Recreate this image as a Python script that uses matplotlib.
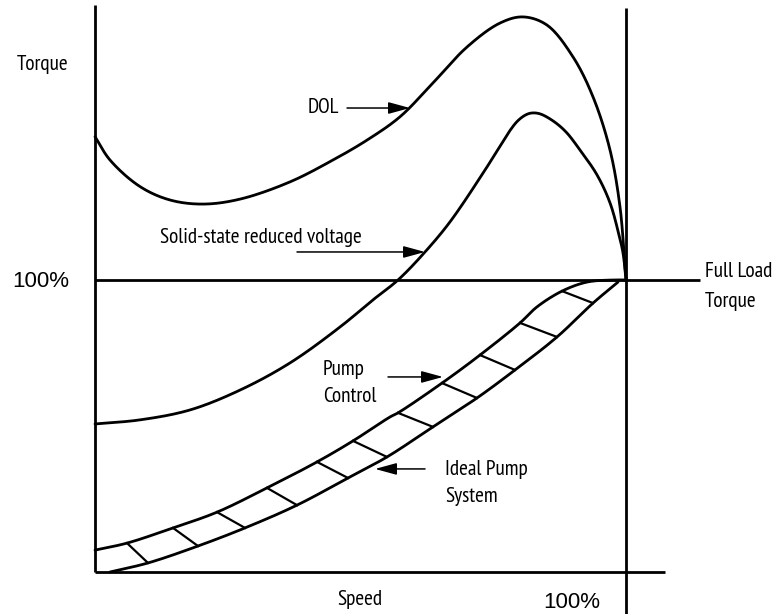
import numpy as np
import matplotlib
matplotlib.use("Agg")
import matplotlib.pyplot as plt
from matplotlib import font_manager
from matplotlib.font_manager import FontProperties
from matplotlib.textpath import TextPath

# ---- data (speed %, torque %) ----
dol_x = [0, 2.82, 8.47, 14.12, 20.34, 27.31, 36.72, 44.82, 51.22, 57.44, 63.65,
         70.06, 76.27, 80.60, 85.12, 90.02, 93.79, 96.99, 98.87, 99.81, 100]
dol_y = [149.1, 141.1, 132.0, 127.4, 126.0, 127.7, 133.6, 141.1, 147.9, 155.9, 167.5,
         179.8, 188.0, 190.1, 187.3, 176.4, 162.7, 144.5, 125.0, 104.5, 100]

ss_x = [0, 8.47, 17.89, 27.31, 36.72, 46.14, 52.35, 57.06, 62.15, 66.85, 73.07,
        76.27, 78.15, 79.66, 81.17, 82.30, 83.80, 86.25, 88.70, 91.34, 94.54,
        96.99, 98.68, 99.44, 100]
ss_y = [50.7, 52.1, 55.5, 62.3, 71.6, 83.9, 93.2, 100, 109.6, 119.9, 136.6,
        145.8, 151.2, 154.6, 156.6, 157.2, 156.9, 154.5, 150.7, 144.5, 136.0,
        126.4, 115.4, 109.2, 100]

pc_x = [0, 6.03, 14.69, 22.98, 32.39, 41.81, 48.59, 55.56, 57.06, 65.35, 72.50,
        80.04, 83.24, 87.95, 92.66, 97.55, 100]
pc_y = [7.5, 9.9, 15.1, 20.5, 28.8, 37.7, 44.9, 53.1, 54.5, 64.7, 74.3,
        85.3, 90.8, 96.2, 99.3, 100, 100]

ideal_x = [2.82, 9.98, 19.40, 28.25, 38.04, 47.65, 54.99, 63.65, 71.94, 79.10,
           87.01, 93.79, 98.49]
ideal_y = [0.0, 3.1, 8.9, 15.1, 22.9, 32.2, 39.4, 49.7, 59.6, 69.2,
           80.5, 92.1, 99.3]

hatch_top_x = [6.03, 14.69, 22.98, 32.39, 41.81, 48.59, 57.06, 65.35, 72.50, 80.04, 87.95]
hatch_bot_x = [9.98, 19.40, 28.25, 38.04, 47.65, 54.99, 63.65, 71.94, 79.10, 87.01, 93.79]

labels = {
    "torque": "Torque",
    "pct": "100%",
    "dol": "DOL",
    "ss": "Solid-state reduced voltage",
    "pump1": "Pump",
    "pump2": "Control",
    "ideal1": "Ideal Pump",
    "ideal2": "System",
    "fl1": "Full Load",
    "fl2": "Torque",
    "speed": "Speed",
}

# ---- condensed label font: pick the installed one closest to the reference proportions ----
names = {f.name for f in font_manager.fontManager.ttflist}
cands = ["Fira Sans Condensed", "Fira Sans Extra Condensed", "Asap Condensed",
         "Encode Sans Semi Condensed", "Barlow Semi Condensed", "Roboto Condensed",
         "IBM Plex Sans Condensed", "Archivo Narrow", "PT Sans Narrow", "Cabin Condensed"]
target_w_pt = 200 * 72 / 100.0   # width of the long label in the reference
target_cap_pt = 15 * 72 / 100.0  # cap height in the reference
best = None
for c in cands:
    if c not in names:
        continue
    try:
        fp = FontProperties(family=c, size=10)
        w = TextPath((0, 0), labels["ss"], prop=fp).get_extents().width
        h = TextPath((0, 0), "H", prop=fp).get_extents().height
        size = 10 * target_w_pt / w
        cap = h * size / 10
        score = abs(cap - target_cap_pt)
        if best is None or score < best[0]:
            best = (score, c, size)
    except Exception:
        pass
if best is None:
    cond_kw = {"family": ["DejaVu Sans"]}
    fs = 12
else:
    cond_kw = {"family": [best[1], "DejaVu Sans"]}
    fs = best[2]
reg_kw = {"family": ["Liberation Sans", "DejaVu Sans"]}

SX, SY = 5.31, 2.92  # pixel scale per data unit (for smooth rendering only)


def smooth(xs, ys, n=24, alpha=0.5):
    """Centripetal Catmull-Rom rendering through the read points."""
    P = np.column_stack([np.asarray(xs) * SX, np.asarray(ys) * SY]).astype(float)
    P = np.vstack([2 * P[0] - P[1], P, 2 * P[-1] - P[-2]])
    out = []
    for i in range(1, len(P) - 2):
        p0, p1, p2, p3 = P[i - 1], P[i], P[i + 1], P[i + 2]
        t0 = 0.0
        t1 = t0 + max(np.linalg.norm(p1 - p0), 1e-6) ** alpha
        t2 = t1 + max(np.linalg.norm(p2 - p1), 1e-6) ** alpha
        t3 = t2 + max(np.linalg.norm(p3 - p2), 1e-6) ** alpha
        t = np.linspace(t1, t2, n, endpoint=False)[:, None]
        A1 = (t1 - t) / (t1 - t0) * p0 + (t - t0) / (t1 - t0) * p1
        A2 = (t2 - t) / (t2 - t1) * p1 + (t - t1) / (t2 - t1) * p2
        A3 = (t3 - t) / (t3 - t2) * p2 + (t - t2) / (t3 - t2) * p3
        B1 = (t2 - t) / (t2 - t0) * A1 + (t - t0) / (t2 - t0) * A2
        B2 = (t3 - t) / (t3 - t1) * A2 + (t - t1) / (t3 - t1) * A3
        C = (t2 - t) / (t2 - t1) * B1 + (t - t1) / (t2 - t1) * B2
        out.append(C)
    out.append(P[-2][None, :])
    out = np.vstack(out)
    return out[:, 0] / SX, out[:, 1] / SY


fig = plt.figure(figsize=(7.73, 6.14), dpi=100)
ax = fig.add_axes([0, 0, 1, 1])
ax.set_xlim(-17.89, 127.68)
ax.set_ylim(-14.38, 195.89)
ax.axis("off")

k = "black"
ax.plot([0, 0], [0, 194.2], color=k, lw=2.0, solid_capstyle="butt")
ax.plot([0, 107.3], [0, 0], color=k, lw=2.0, solid_capstyle="butt")
ax.plot([0, 113.9], [100, 100], color=k, lw=2.0, solid_capstyle="butt")
ax.plot([100, 100], [-16, 193.2], color=k, lw=2.0, solid_capstyle="butt")

for xs, ys in [(dol_x, dol_y), (ss_x, ss_y), (pc_x, pc_y), (ideal_x, ideal_y)]:
    sx, sy = smooth(xs, ys)
    ax.plot(sx, sy, color=k, lw=2.0, solid_capstyle="round")

for xt, xb in zip(hatch_top_x, hatch_bot_x):
    yt = np.interp(xt, pc_x, pc_y)
    yb = np.interp(xb, ideal_x, ideal_y)
    ax.plot([xt, xb], [yt, yb], color=k, lw=1.6)

ap = dict(arrowstyle="-|>,head_length=1.1,head_width=0.3", color=k, lw=1.1,
          shrinkA=0, shrinkB=0, mutation_scale=12)
ax.annotate("", xy=(59.32, 158.9), xytext=(47.46, 158.9), arrowprops=ap)
ax.annotate("", xy=(62.15, 109.6), xytext=(38.04, 109.6), arrowprops=ap)
ax.annotate("", xy=(65.54, 66.8), xytext=(55.18, 66.8), arrowprops=ap)
ax.annotate("", xy=(52.73, 35.3), xytext=(62.15, 35.3), arrowprops=ap)

tk = dict(ha="left", va="baseline", fontsize=fs, **cond_kw)
ax.text(-14.69, 171.9, labels["torque"], **tk)
ax.text(40.11, 157.1, labels["dol"], **tk)
ax.text(12.24, 112.6, labels["ss"], **tk)
ax.text(42.94, 67.4, labels["pump1"], **tk)
ax.text(42.94, 58.3, labels["pump2"], **tk)
ax.text(65.91, 33.1, labels["ideal1"], **tk)
ax.text(65.91, 24.1, labels["ideal2"], **tk)
ax.text(114.88, 101.1, labels["fl1"], **tk)
ax.text(114.88, 90.9, labels["fl2"], **tk)
ax.text(45.57, -11.3, labels["speed"], **tk)

ax.text(-15.63, 97.7, labels["pct"], ha="left", va="baseline", fontsize=16, **reg_kw)
ax.text(84.37, -12.4, labels["pct"], ha="left", va="baseline", fontsize=16, **reg_kw)

fig.savefig("out.png", dpi=100, facecolor="white")
